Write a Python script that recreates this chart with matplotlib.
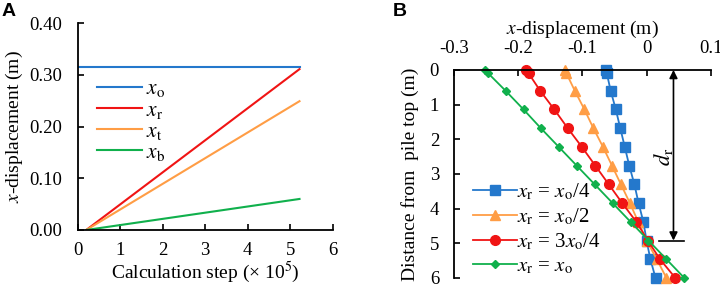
import matplotlib
matplotlib.use("Agg")
import matplotlib.pyplot as plt

plt.rcParams["font.family"] = ["Liberation Serif", "DejaVu Serif"]
plt.rcParams["mathtext.fontset"] = "stix"
plt.rcParams["font.size"] = 13.5
plt.rcParams["xtick.direction"] = "in"
plt.rcParams["ytick.direction"] = "in"
plt.rcParams["axes.linewidth"] = 1.3

# Panel A data - displacement vs calculation step (x1e5)
steps = [0.2, 5.22]
x_o = [0.315, 0.315]
x_r = [0.0, 0.311]
x_t = [0.0, 0.249]
x_b = [0.0, 0.060]
x_o_steps = [0.0, 5.22]

# Panel B data - displacement profile along pile
depth = [0.0, 0.1, 0.6, 1.14, 1.68, 2.22, 2.76, 3.3, 3.84, 4.38, 4.92, 5.46, 6.0]
disp_q1 = [-0.064, -0.062, -0.056, -0.048, -0.041, -0.034, -0.027, -0.019, -0.0125, -0.005, 0.0, 0.006, 0.014]
disp_q2 = [-0.128, -0.125, -0.112, -0.097, -0.083, -0.068, -0.054, -0.040, -0.026, -0.013, 0.0, 0.016, 0.031]
disp_q3 = [-0.1875, -0.184, -0.166, -0.144, -0.123, -0.101, -0.080, -0.059, -0.038, -0.016, 0.002, 0.021, 0.045]
disp_q4 = [-0.252, -0.247, -0.220, -0.192, -0.165, -0.137, -0.109, -0.081, -0.053, -0.025, 0.003, 0.031, 0.059]
d_r = 4.92

blue = "#2478cc"
red = "#f01414"
orange = "#ff9d45"
green = "#10b04c"

fig = plt.figure(figsize=(7.2, 2.85), dpi=100)

# ---------------- Panel A ----------------
ax1 = fig.add_axes([0.108, 0.193, 0.354, 0.726])
ax1.plot(x_o_steps, x_o, color=blue, lw=1.5, label=r"$x_\mathrm{o}$")
ax1.plot(steps, x_r, color=red, lw=1.5, label=r"$x_\mathrm{r}$")
ax1.plot(steps, x_t, color=orange, lw=1.5, label=r"$x_\mathrm{t}$")
ax1.plot(steps, x_b, color=green, lw=1.5, label=r"$x_\mathrm{b}$")
ax1.set_xlim(0, 6)
ax1.set_ylim(0, 0.4)
ax1.set_xticks(range(7))
ax1.set_yticks([0, 0.1, 0.2, 0.3, 0.4])
ax1.set_yticklabels(["0.00", "0.10", "0.20", "0.30", "0.40"])
ax1.spines["top"].set_visible(False)
ax1.spines["right"].set_visible(False)
ax1.tick_params(length=4, width=1.2)
ax1.tick_params(axis="y", pad=11)
ax1.tick_params(axis="x", pad=9)
ax1.set_xlabel("Calculation step (\u00d7 10$^5$)", labelpad=0, fontsize=14)
ax1.set_ylabel(r"$x$-displacement (m)", labelpad=3, fontsize=14)
ax1.legend(loc="upper left", bbox_to_anchor=(0.04, 0.77), frameon=False,
           handlelength=2.1, labelspacing=0.05, handletextpad=0.2,
           borderaxespad=0, fontsize=15.5)

fig.text(0.002, 0.99, "A", fontfamily="Liberation Sans", fontweight="bold",
         fontsize=14, va="top", ha="left")

# ---------------- Panel B ----------------
ax2 = fig.add_axes([0.631, 0.0246, 0.356, 0.730])
ax2.plot(disp_q1, depth, color=blue, lw=1.3, marker="s", ms=6.5, clip_on=False,
         label=r"$x_\mathrm{r}$ = $x_\mathrm{o}$/4")
ax2.plot(disp_q2, depth, color=orange, lw=1.3, marker="^", ms=7, clip_on=False,
         label=r"$x_\mathrm{r}$ = $x_\mathrm{o}$/2")
ax2.plot(disp_q3, depth, color=red, lw=1.3, marker="o", ms=7, clip_on=False,
         label=r"$x_\mathrm{r}$ = 3$x_\mathrm{o}$/4")
ax2.plot(disp_q4, depth, color=green, lw=1.3, marker="D", ms=4.5, clip_on=False,
         label=r"$x_\mathrm{r}$ = $x_\mathrm{o}$")
ax2.set_xlim(-0.3, 0.1)
ax2.set_ylim(6, 0)
ax2.set_xticks([-0.3, -0.2, -0.1, 0, 0.1])
ax2.set_xticklabels(["-0.3", "-0.2", "-0.1", "0", "0.1"])
ax2.set_yticks(range(7))
ax2.xaxis.tick_top()
ax2.xaxis.set_label_position("top")
ax2.spines["bottom"].set_visible(False)
ax2.spines["right"].set_visible(False)
ax2.tick_params(length=4, width=1.2)
ax2.tick_params(axis="x", pad=9)
ax2.tick_params(axis="y", pad=11)
ax2.set_xlabel(r"$x$-displacement (m)", labelpad=5, fontsize=14)
ax2.set_ylabel("Distance from  pile top (m)", labelpad=8, fontsize=14)

# d_r arrow
ax2.annotate("", xy=(0.042, 0), xytext=(0.042, d_r),
             arrowprops=dict(arrowstyle="<|-|>", color="black", lw=1.2,
                             shrinkA=0, shrinkB=0, mutation_scale=12))
ax2.plot([0.019, 0.059], [d_r, d_r], color="black", lw=1.2, clip_on=False)
ax2.text(0.026, 2.5, r"$d_\mathrm{r}$", rotation=90, ha="center", va="center",
         fontsize=16)

ax2.legend(loc="lower left", bbox_to_anchor=(0.04, -0.03), frameon=False,
           handlelength=2.1, labelspacing=0.2, handletextpad=0.0,
           borderaxespad=0, fontsize=15)

fig.text(0.545, 0.99, "B", fontfamily="Liberation Sans", fontweight="bold",
         fontsize=14, va="top", ha="left")

fig.savefig("out.png", dpi=100)
